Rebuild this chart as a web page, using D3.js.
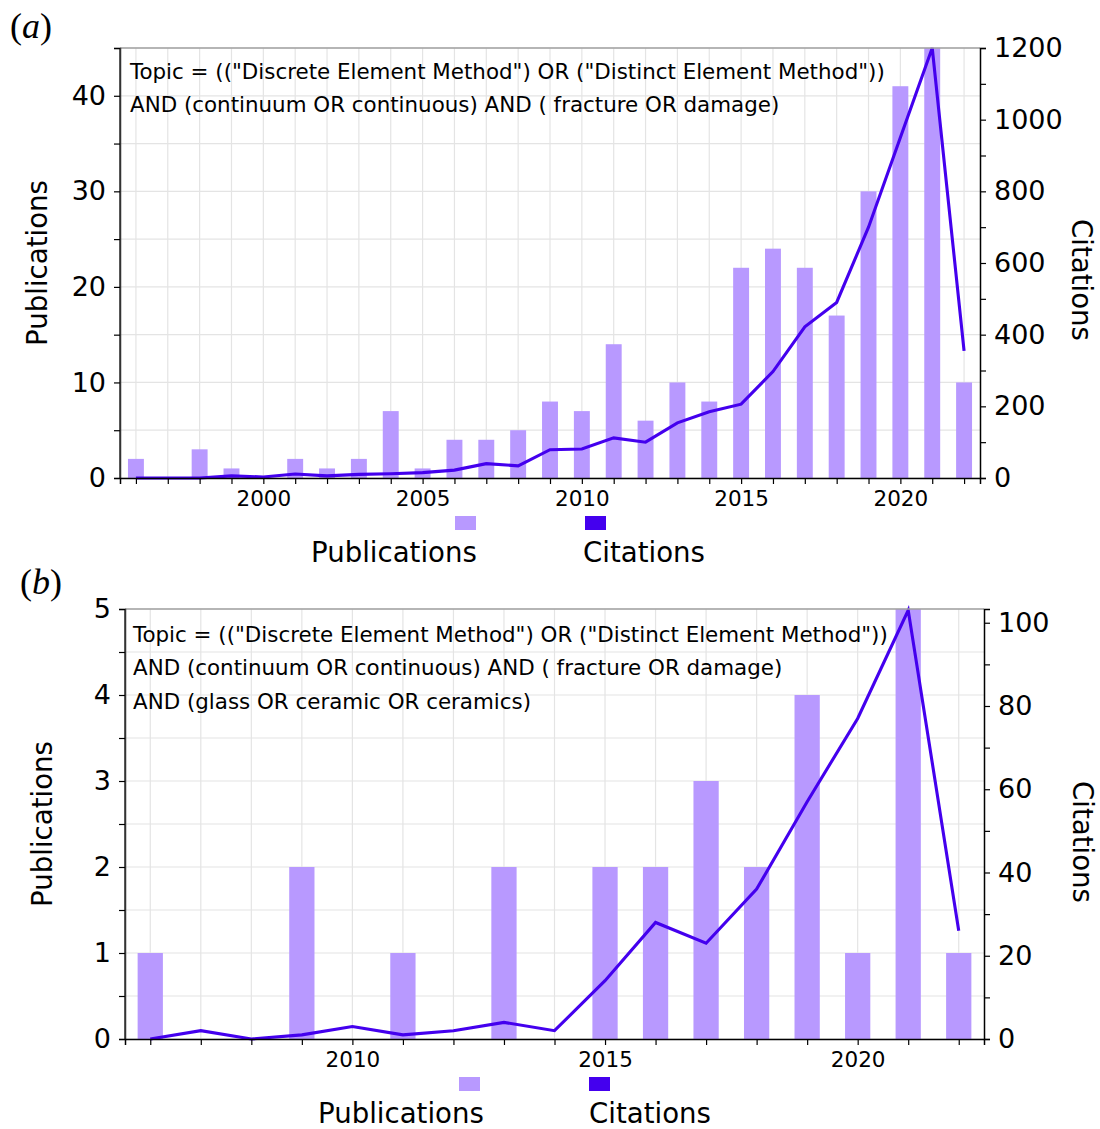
<!DOCTYPE html>
<html><head><meta charset="utf-8">
<script src="https://cdn.jsdelivr.net/npm/d3@7"></script>
<style>body{margin:0;background:#fff}svg{display:block}</style>
</head><body>
<svg id="chart" width="1100" height="1129"></svg>
<script>
// ---- Data ----
const yearsA = [1996,1997,1998,1999,2000,2001,2002,2003,2004,2005,2006,2007,2008,2009,2010,2011,2012,2013,2014,2015,2016,2017,2018,2019,2020,2021,2022];
const pubsA  = [2,0,3,1,0,2,1,2,7,1,4,4,5,8,7,14,6,10,8,22,24,22,17,30,41,45,10];
const citesA = [0,0,0,6,3,11,6,10,12,15,22,40,34,79,81,112,100,154,185,206,297,422,490,700,950,1200,355];
const queryA = ['Topic = (("Discrete Element Method") OR ("Distinct Element Method"))',
                'AND (continuum OR continuous) AND ( fracture OR damage)'];

const yearsB = [2006,2007,2008,2009,2010,2011,2012,2013,2014,2015,2016,2017,2018,2019,2020,2021,2022];
const pubsB  = [1,0,0,2,0,1,0,2,0,2,2,3,2,4,1,5,1];
const citesB = [0,2,0,1,3,1,2,4,2,14,28,23,36,57,77,103,26];
const queryB = ['Topic = (("Discrete Element Method") OR ("Distinct Element Method"))',
                'AND (continuum OR continuous) AND ( fracture OR damage)',
                'AND (glass OR ceramic OR ceramics)'];

const xTickLabelsA = [2000,2005,2010,2015,2020];
const xTickLabelsB = [2010,2015,2020];
const leftTicksA = [0,10,20,30,40], leftMinorA = [5,15,25,35,45];
const rightTicksA = [0,200,400,600,800,1000,1200], rightMinorA = [100,300,500,700,900,1100];
const leftTicksB = [0,1,2,3,4,5], leftMinorB = [0.5,1.5,2.5,3.5,4.5];
const rightTicksB = [0,20,40,60,80,100], rightMinorB = [10,30,50,70,90];
const seriesNames = ['Publications','Citations'];

const BAR = '#b899ff', LINE = '#4400ee', GRID = '#e4e4e4';
const FONT = '"DejaVu Sans", sans-serif';
const svg = d3.select('#chart');

function panel(cfg) {
  const {L,R,T,B} = cfg;
  const g = svg.append('g');
  const x = d3.scaleLinear().domain(cfg.xdom).range([L,R]);
  const yl = d3.scaleLinear().domain([0,cfg.lmax]).range([B,T]);
  const yr = d3.scaleLinear().domain([0,cfg.rmax]).range([B,T]);

  // grid
  g.append('g').selectAll('line').data(cfg.years).join('line')
    .attr('x1',d=>x(d)).attr('x2',d=>x(d)).attr('y1',T).attr('y2',B)
    .attr('stroke',GRID).attr('stroke-width',1.2);
  g.append('g').selectAll('line').data(cfg.lTicks.concat(cfg.lMinor)).join('line')
    .attr('x1',L).attr('x2',R).attr('y1',d=>yl(d)).attr('y2',d=>yl(d))
    .attr('stroke',GRID).attr('stroke-width',1.2);

  // bars
  const bw = x(cfg.years[0]+0.5)-x(cfg.years[0]);
  g.append('g').selectAll('rect').data(cfg.years).join('rect')
    .attr('x',(d)=>x(d)-bw/2).attr('width',bw)
    .attr('y',(d,i)=>yl(cfg.pubs[i])).attr('height',(d,i)=>B-yl(cfg.pubs[i]))
    .attr('fill',BAR);

  // line
  const line = d3.line().x((d,i)=>x(cfg.years[i])).y(d=>yr(d));
  g.append('path').datum(cfg.cites).attr('d',line).attr('fill','none')
    .attr('stroke',LINE).attr('stroke-width',3.1).attr('stroke-linejoin','miter');

  // spines
  g.append('line').attr('x1',L).attr('x2',R).attr('y1',T).attr('y2',T).attr('stroke','#a0a0a0').attr('stroke-width',1.5);
  g.append('line').attr('x1',L).attr('x2',L).attr('y1',T).attr('y2',B).attr('stroke','#333').attr('stroke-width',1.5);

  // axes
  const tickStyle = sel => { sel.select('.domain').attr('stroke','#000').attr('stroke-width',1.5);
    sel.selectAll('.tick line').attr('stroke','#000').attr('stroke-width',1.2); };
  const left = g.append('g').attr('transform',`translate(${L},0)`)
    .call(d3.axisLeft(yl).tickValues(cfg.lTicks.concat(cfg.lMinor)).tickSize(6).tickPadding(8)
      .tickFormat(d=>cfg.lTicks.includes(d)?d:''));
  tickStyle(left); left.select('.domain').attr('stroke','#333');
  left.selectAll('text').attr('font-family',FONT).attr('font-size',27).attr('fill','#000');

  const right = g.append('g').attr('transform',`translate(${R},0)`)
    .call(d3.axisRight(yr).tickValues(cfg.rTicks.concat(cfg.rMinor)).tickSize(6).tickPadding(8)
      .tickFormat(d=>cfg.rTicks.includes(d)?d:''));
  tickStyle(right);
  right.selectAll('text').attr('font-family',FONT).attr('font-size',27).attr('fill','#000');

  const bottom = g.append('g').attr('transform',`translate(0,${B})`)
    .call(d3.axisBottom(x).tickValues(cfg.years).tickSize(6).tickPadding(7)
      .tickFormat(d=>cfg.xLabels.includes(d)?d:''));
  tickStyle(bottom);
  bottom.selectAll('text').attr('font-family',FONT).attr('font-size',21.5).attr('fill','#000');

  // axis titles
  g.append('text').attr('transform',`translate(${cfg.ltX},${(T+B)/2}) rotate(-90)`)
    .attr('text-anchor','middle').attr('font-family',FONT).attr('font-size',27.6).text('Publications');
  g.append('text').attr('transform',`translate(${cfg.rtX},${cfg.rtY}) rotate(90)`)
    .attr('text-anchor','middle').attr('font-family',FONT).attr('font-size',27.6).text('Citations');

  // query text
  g.append('g').selectAll('text').data(cfg.query).join('text')
    .attr('x',cfg.qx).attr('y',(d,i)=>cfg.qy+i*33.3)
    .attr('font-family',FONT).attr('font-size',21.4).attr('fill','#000').text(d=>d);

  // legend
  const lg = g.append('g');
  lg.append('rect').attr('x',cfg.leg.s1).attr('y',cfg.leg.sy).attr('width',21).attr('height',14).attr('fill',BAR);
  lg.append('rect').attr('x',cfg.leg.s2).attr('y',cfg.leg.sy).attr('width',21).attr('height',14).attr('fill',LINE);
  lg.append('text').attr('x',cfg.leg.t1).attr('y',cfg.leg.ty).attr('font-family',FONT).attr('font-size',27.6).text(seriesNames[0]);
  lg.append('text').attr('x',cfg.leg.t2).attr('y',cfg.leg.ty).attr('font-family',FONT).attr('font-size',27.6).text(seriesNames[1]);

  // panel label
  const pl = g.append('text').attr('x',cfg.pl[0]).attr('y',cfg.pl[1])
    .attr('font-family','"Liberation Serif", "DejaVu Serif", serif').attr('font-size',36);
  pl.append('tspan').text('(');
  pl.append('tspan').attr('font-style','italic').text(cfg.plText);
  pl.append('tspan').text(')');
}

panel({L:120,R:980,T:48,B:478,xdom:[1995.5,2022.5],lmax:45,rmax:1200,
  years:yearsA,pubs:pubsA,cites:citesA,xLabels:xTickLabelsA,
  lTicks:leftTicksA,lMinor:leftMinorA,rTicks:rightTicksA,rMinor:rightMinorA,
  ltX:47,rtX:1072,rtY:280,query:queryA,qx:130,qy:79,
  leg:{s1:455,s2:585,sy:516,t1:311,t2:583,ty:562},pl:[10,38],plText:'a'});

panel({L:125,R:984,T:609,B:1039,xdom:[2005.5,2022.5],lmax:5,rmax:103.3,
  years:yearsB,pubs:pubsB,cites:citesB,xLabels:xTickLabelsB,
  lTicks:leftTicksB,lMinor:leftMinorB,rTicks:rightTicksB,rMinor:rightMinorB,
  ltX:52,rtX:1073,rtY:842,query:queryB,qx:133,qy:642,
  leg:{s1:459,s2:589,sy:1077,t1:318,t2:589,ty:1123},pl:[20,594],plText:'b'});
</script>
</body></html>
